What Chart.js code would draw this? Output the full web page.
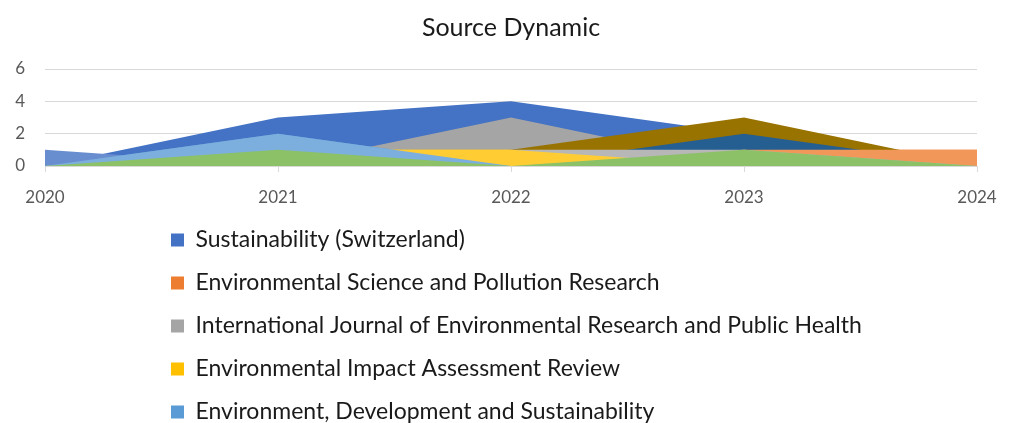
<!DOCTYPE html>
<html>
<head>
<meta charset="utf-8">
<script src="https://cdn.jsdelivr.net/npm/chart.js@4.4.1/dist/chart.umd.min.js"></script>
<style>
  html, body { margin: 0; padding: 0; background: #fff; }
  #wrap { position: relative; width: 1013px; height: 423px; }
</style>
</head>
<body>
<div id="wrap"><canvas id="sourceChart"></canvas></div>
<script>
var years = ['2020', '2021', '2022', '2023', '2024'];
var yMax = 6;
var yStep = 2;

// journals shown in the legend
var sustainability = [0, 3, 4, 2, 0];
var envSciPollution = [0, 0, 0, 1, 1];
var ijerph = [0, 0, 3, 0, 0];
var eiaReview = [0, 1, 1, 0, 0];
var envDevSustain = [0, 2, 0, 0, 0];
// further journals, their legend rows are cut off below the picture
var journal10 = [0, 0, 1, 3, 0];
var journal11 = [0, 0, 0, 2, 0];
var journal13 = [1, 0, 0, 0, 0];
var journal14 = [0, 0, 0, 1, 1];
var journal15 = [0, 0, 1, 1, 0];
var journal16 = [0, 1, 1, 0, 0];
var journal17 = [0, 2, 0, 0, 0];
var journal18 = [0, 1, 0, 1, 0];

var series = [
    ['Sustainability (Switzerland)', sustainability, '#4472C4'],
    ['Environmental Science and Pollution Research', envSciPollution, '#ED7D31'],
    ['International Journal of Environmental Research and Public Health', ijerph, '#A5A5A5'],
    ['Environmental Impact Assessment Review', eiaReview, '#FFC000'],
    ['Environment, Development and Sustainability', envDevSustain, '#5B9BD5'],
    ['Journal 10', journal10, '#997300'],
    ['Journal 11', journal11, '#255E91'],
    ['Journal 13', journal13, '#698ED0'],
    ['Journal 14', journal14, '#F1975A'],
    ['Journal 15', journal15, '#B7B7B7'],
    ['Journal 16', journal16, '#FFCD33'],
    ['Journal 17', journal17, '#7CAFDD'],
    ['Journal 18', journal18, '#8CC168']
];

// excel draws later series in front, chart.js draws higher "order" first
var datasets = series.map(function (s, i) {
    return {
        label: s[0],
        data: s[1],
        backgroundColor: s[2],
        borderColor: s[2],
        borderWidth: 0,
        pointRadius: 0,
        pointHoverRadius: 0,
        fill: 'origin',
        tension: 0,
        order: series.length - i
    };
});

var PLOT_BOTTOM = 166;

// one legend item per row, left aligned like the excel legend
var legendColumn = {
    id: 'legendColumn',
    afterLayout: function (chart) {
        var lg = chart.legend;
        if (!lg || !lg.legendItems) return;
        var labels = lg.options.labels;
        var font = Chart.helpers.toFont(labels.font);
        var ctx = lg.ctx;
        ctx.save();
        ctx.font = font.string;
        var widest = 0;
        lg.legendItems.forEach(function (it) {
            var w = labels.boxWidth + font.size / 2 + ctx.measureText(it.text).width;
            if (w > widest) widest = w;
        });
        ctx.restore();
        lg.left = 171 - labels.padding;
        lg.right = lg.left + labels.padding + widest + 4;
        lg.width = lg.right - lg.left;
        lg.top = 240 - labels.padding - font.size / 2;
        lg.bottom = chart.height;
        lg.height = lg.bottom - lg.top;
    }
};

var ctx = document.getElementById('sourceChart').getContext('2d');
var sourceChart = new Chart(ctx, {
    type: 'line',
    data: {
        labels: years,
        datasets: datasets
    },
    options: {
        responsive: true,
        maintainAspectRatio: false,
        animation: false,
        layout: { padding: { left: 9, right: 0, top: 0, bottom: 0 } },
        plugins: {
            title: {
                display: true,
                text: 'Source Dynamic',
                color: '#1a1a1a',
                font: { family: 'Lato', size: 25, weight: 'normal' },
                padding: { top: 13, bottom: 26 }
            },
            legend: {
                position: 'bottom',
                align: 'start',
                labels: {
                    color: '#1a1a1a',
                    font: { family: 'Lato', size: 23 },
                    boxWidth: 13,
                    boxHeight: 13,
                    padding: 20,
                    filter: function (item) { return item.datasetIndex < 5; },
                    sort: function (a, b) { return a.datasetIndex - b.datasetIndex; }
                }
            },
            tooltip: { enabled: false }
        },
        scales: {
            x: {
                offset: false,
                grid: { drawOnChartArea: false, drawTicks: true, tickLength: 6, color: '#D9D9D9' },
                border: { display: true, color: '#D9D9D9' },
                ticks: { color: '#595959', font: { family: 'Lato', size: 17 }, padding: 15, maxRotation: 0 },
                afterFit: function (scale) {
                    scale.height = scale.chart.height - PLOT_BOTTOM - scale.chart.legend.height;
                    scale.paddingRight = 36;
                }
            },
            y: {
                min: 0,
                max: yMax,
                grid: { color: '#D9D9D9', drawTicks: false },
                border: { display: false },
                ticks: { stepSize: yStep, color: '#595959', font: { family: 'Lato', size: 17 }, padding: 20 },
                afterFit: function (scale) { scale.width = 36; }
            }
        }
    },
    plugins: [legendColumn]
});
</script>
</body>
</html>
